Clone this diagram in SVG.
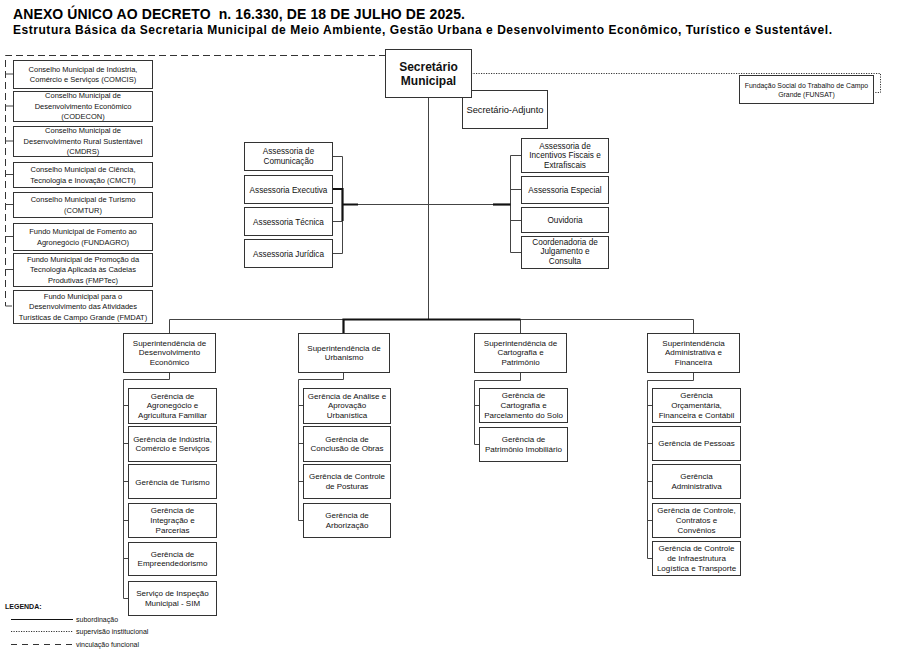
<svg xmlns="http://www.w3.org/2000/svg" width="901" height="653" viewBox="0 0 901 653">
<style>
.bx{fill:#fff;stroke:#333;stroke-width:1}
.t{font-family:"Liberation Sans",Arial,sans-serif;font-size:8px;fill:#111;text-anchor:middle}
.ta{font-family:"Liberation Sans",Arial,sans-serif;font-size:8.2px;fill:#111;text-anchor:middle}
.c{font-family:"Liberation Sans",Arial,sans-serif;font-size:7.5px;fill:#111;text-anchor:middle}
.ln{fill:none;stroke:#444;stroke-width:1}
.th{fill:none;stroke:#111;stroke-width:2.2}
.da{fill:none;stroke:#333;stroke-width:1;stroke-dasharray:7 4}
.do{fill:none;stroke:#333;stroke-width:1;stroke-dasharray:1.2 1.3}
.lg{font-family:"Liberation Sans",Arial,sans-serif;font-size:7px;fill:#111}
.hd{font-family:"Liberation Sans",Arial,sans-serif;font-weight:bold;fill:#000}
</style>
<rect width="901" height="653" fill="#fff"/>
<text class="hd" x="13" y="19" style="font-size:14px" textLength="452" lengthAdjust="spacing">ANEXO ÚNICO AO DECRETO&#160; n. 16.330, DE 18 DE JULHO DE 2025.</text>
<text class="hd" x="13" y="34" style="font-size:12px" textLength="819" lengthAdjust="spacing">Estrutura Básica da Secretaria Municipal de Meio Ambiente, Gestão Urbana e Desenvolvimento Econômico, Turístico e Sustentável.</text>

<g id="connectors">
<!-- vinculação funcional -->
<path class="da" d="M386 55.5 H5.5 V306"/>
<path class="ln" d="M5.5 74 H13 M5.5 106 H13 M5.5 141 H13 M5.5 174.5 H13 M5.5 204.5 H13 M5.5 236.5 H13 M5.5 269.5 H13 M5.5 306 H12"/>
<!-- supervisão institucional -->
<path class="do" d="M471 73.5 H880.5 V92.5 H873"/>
<!-- main trunk -->
<path class="ln" d="M428.5 97 V319.5"/>
<path class="ln" d="M342.5 204.5 H510.5"/>
<path class="ln" d="M332 156.5 H342.5 V253.5 H332 M332 221.5 H342.5"/>
<path class="th" d="M332 189 H342.5 V221 M342.5 204.5 H358"/>
<path class="ln" d="M521 155.5 H510.5 V252.5 H521 M510.5 189.5 H521 M510.5 220.5 H521"/>
<path class="th" d="M493 204.5 H510.5"/>
<!-- superintendencies -->
<path class="ln" d="M169.5 333 V319.5 H693.5 V333 M520.5 319.5 V333"/>
<path class="th" d="M343.5 333 V319.5 H520.5"/>
<!-- desenvolvimento -->
<path class="ln" d="M169.5 372 V379.5 H123.5 V598.5 H128 M123.5 405.5 H128 M123.5 443.5 H128 M123.5 481.5 H128 M123.5 520.5 H128 M123.5 558.5 H128"/>
<!-- urbanismo -->
<path class="ln" d="M343.5 372 V379.5 H298.5 V520.5 H303 M298.5 405.5 H303 M298.5 443.5 H303 M298.5 481.5 H303"/>
<!-- cartografia -->
<path class="ln" d="M520.5 372 V380.5 H474.5 V444.5 H479 M474.5 405.5 H479"/>
<!-- administrativa -->
<path class="ln" d="M693.5 372 V380.5 H647.5 V558.5 H652 M647.5 405.5 H652 M647.5 443.5 H652 M647.5 481.5 H652 M647.5 520.5 H652"/>
</g>

<!-- Council boxes -->
<g id="comcis"><rect class="bx" x="13.5" y="60.5" width="139" height="28"/><text class="c" x="83" y="71.5">Conselho Municipal de Indústria,</text><text class="c" x="83" y="82">Comércio e Serviços (COMCIS)</text></g>
<g id="codecon"><rect class="bx" x="13.5" y="91.5" width="139" height="30"/><text class="c" x="83" y="98.2">Conselho Municipal de</text><text class="c" x="83" y="108.7">Desenvolvimento Econômico</text><text class="c" x="83" y="119.2">(CODECON)</text></g>
<g id="cmdrs"><rect class="bx" x="13.5" y="126.5" width="139" height="30"/><text class="c" x="83" y="133.2">Conselho Municipal de</text><text class="c" x="83" y="143.7">Desenvolvimento Rural Sustentável</text><text class="c" x="83" y="154.2">(CMDRS)</text></g>
<g id="cmcti"><rect class="bx" x="13.5" y="162.5" width="139" height="25"/><text class="c" x="83" y="172">Conselho Municipal de Ciência,</text><text class="c" x="83" y="182.5">Tecnologia e Inovação (CMCTI)</text></g>
<g id="comtur"><rect class="bx" x="13.5" y="192.5" width="139" height="25"/><text class="c" x="83" y="202">Conselho Municipal de Turismo</text><text class="c" x="83" y="212.5">(COMTUR)</text></g>
<g id="fundagro"><rect class="bx" x="13.5" y="223.5" width="139" height="27"/><text class="c" x="83" y="234">Fundo Municipal de Fomento ao</text><text class="c" x="83" y="244.5">Agronegócio (FUNDAGRO)</text></g>
<g id="fmptec"><rect class="bx" x="13.5" y="253.5" width="139" height="33"/><text class="c" x="83" y="261.7">Fundo Municipal de Promoção da</text><text class="c" x="83" y="272.2">Tecnologia Aplicada às Cadeias</text><text class="c" x="83" y="282.7">Produtivas (FMPTec)</text></g>
<g id="fmdat"><rect class="bx" x="13.5" y="290.5" width="139" height="33"/><text class="c" x="83" y="298.7">Fundo Municipal para o</text><text class="c" x="83" y="309.2">Desenvolvimento das Atividades</text><text class="c" x="83" y="319.7">Turísticas de Campo Grande (FMDAT)</text></g>

<g id="funsat"><rect class="bx" x="739.5" y="75.5" width="134" height="28"/><text class="c" x="806.5" y="88" style="font-size:6.9px">Fundação Social do Trabalho de Campo</text><text class="c" x="806.5" y="97" style="font-size:6.9px">Grande (FUNSAT)</text></g>

<!-- Top -->
<g id="adjunto"><rect class="bx" x="462.5" y="90.5" width="85" height="38"/><text class="t" x="505" y="113" style="font-size:9.3px">Secretário-Adjunto</text></g>
<g id="secretario"><rect class="bx" x="385.5" y="49.5" width="86" height="48"/><text class="t" x="428.5" y="70.5" style="font-size:12px;font-weight:bold">Secretário</text><text class="t" x="428.5" y="85" style="font-size:12px;font-weight:bold">Municipal</text></g>

<!-- Assessorias left -->
<g id="comunicacao"><rect class="bx" x="244.5" y="142.5" width="88" height="28"/><text class="ta" x="288.5" y="154">Assessoria de</text><text class="ta" x="288.5" y="164">Comunicação</text></g>
<g id="executiva"><rect class="bx" x="244.5" y="175.5" width="88" height="28"/><text class="ta" x="288.5" y="192.5">Assessoria Executiva</text></g>
<g id="tecnica"><rect class="bx" x="244.5" y="207.5" width="88" height="28"/><text class="ta" x="288.5" y="224.5">Assessoria Técnica</text></g>
<g id="juridica"><rect class="bx" x="244.5" y="239.5" width="88" height="28"/><text class="ta" x="288.5" y="256.5">Assessoria Jurídica</text></g>

<!-- Assessorias right -->
<g id="incentivos"><rect class="bx" x="521.5" y="138.5" width="87" height="34"/><text class="ta" x="565" y="148.6">Assessoria de</text><text class="ta" x="565" y="158.4">Incentivos Fiscais e</text><text class="ta" x="565" y="168.2">Extrafiscais</text></g>
<g id="especial"><rect class="bx" x="521.5" y="176.5" width="87" height="27"/><text class="ta" x="565" y="193">Assessoria Especial</text></g>
<g id="ouvidoria"><rect class="bx" x="521.5" y="207.5" width="87" height="25"/><text class="ta" x="565" y="223">Ouvidoria</text></g>
<g id="coordenadoria"><rect class="bx" x="521.5" y="236.5" width="87" height="32"/><text class="ta" x="565" y="244.6">Coordenadoria de</text><text class="ta" x="565" y="254.2">Julgamento e</text><text class="ta" x="565" y="263.9">Consulta</text></g>

<!-- Superintendencies -->
<g id="sup-desenv"><rect class="bx" x="123.5" y="333.5" width="92" height="39"/><text class="t" x="169.5" y="345.6">Superintendência de</text><text class="t" x="169.5" y="355.3">Desenvolvimento</text><text class="t" x="169.5" y="365">Econômico</text></g>
<g id="sup-urb"><rect class="bx" x="298.5" y="333.5" width="91" height="39"/><text class="t" x="344" y="350.5">Superintendência de</text><text class="t" x="344" y="360.1">Urbanismo</text></g>
<g id="sup-cart"><rect class="bx" x="474.5" y="333.5" width="92" height="39"/><text class="t" x="520.5" y="345.6">Superintendência de</text><text class="t" x="520.5" y="355.3">Cartografia e</text><text class="t" x="520.5" y="365">Patrimônio</text></g>
<g id="sup-adm"><rect class="bx" x="647.5" y="333.5" width="92" height="39"/><text class="t" x="693.5" y="345.6">Superintendência</text><text class="t" x="693.5" y="355.3">Administrativa e</text><text class="t" x="693.5" y="365">Financeira</text></g>

<!-- Desenvolvimento gerências -->
<g id="g-agro"><rect class="bx" x="128.5" y="388.5" width="88" height="35"/><text class="t" x="172.5" y="398.5">Gerência de</text><text class="t" x="172.5" y="408.3">Agronegócio e</text><text class="t" x="172.5" y="418.1">Agricultura Familiar</text></g>
<g id="g-ind"><rect class="bx" x="128.5" y="426.5" width="88" height="35"/><text class="t" x="172.5" y="441.5">Gerência de Indústria,</text><text class="t" x="172.5" y="451.3">Comércio e Serviços</text></g>
<g id="g-tur"><rect class="bx" x="128.5" y="464.5" width="88" height="34"/><text class="t" x="172.5" y="484.5">Gerência de Turismo</text></g>
<g id="g-int"><rect class="bx" x="128.5" y="503.5" width="88" height="34"/><text class="t" x="172.5" y="513">Gerência de</text><text class="t" x="172.5" y="522.8">Integração e</text><text class="t" x="172.5" y="532.6">Parcerias</text></g>
<g id="g-emp"><rect class="bx" x="128.5" y="542.5" width="88" height="33"/><text class="t" x="172.5" y="556.5">Gerência de</text><text class="t" x="172.5" y="566.3">Empreendedorismo</text></g>
<g id="g-sim"><rect class="bx" x="128.5" y="581.5" width="88" height="34"/><text class="t" x="172.5" y="596">Serviço de Inspeção</text><text class="t" x="172.5" y="605.8">Municipal - SIM</text></g>

<!-- Urbanismo gerências -->
<g id="g-analise"><rect class="bx" x="303.5" y="388.5" width="87" height="35"/><text class="t" x="347" y="398.5">Gerência de Análise e</text><text class="t" x="347" y="408.3">Aprovação</text><text class="t" x="347" y="418.1">Urbanística</text></g>
<g id="g-conc"><rect class="bx" x="303.5" y="426.5" width="87" height="35"/><text class="t" x="347" y="441.5">Gerência de</text><text class="t" x="347" y="451.3">Conclusão de Obras</text></g>
<g id="g-post"><rect class="bx" x="303.5" y="464.5" width="87" height="34"/><text class="t" x="347" y="479">Gerência de Controle</text><text class="t" x="347" y="488.8">de Posturas</text></g>
<g id="g-arb"><rect class="bx" x="303.5" y="503.5" width="87" height="34"/><text class="t" x="347" y="518">Gerência de</text><text class="t" x="347" y="527.8">Arborização</text></g>

<!-- Cartografia gerências -->
<g id="g-cart"><rect class="bx" x="479.5" y="388.5" width="88" height="34"/><text class="t" x="523.5" y="398">Gerência de</text><text class="t" x="523.5" y="407.8">Cartografia e</text><text class="t" x="523.5" y="417.6">Parcelamento do Solo</text></g>
<g id="g-patr"><rect class="bx" x="479.5" y="427.5" width="88" height="34"/><text class="t" x="523.5" y="442">Gerência de</text><text class="t" x="523.5" y="451.8">Patrimônio Imobiliário</text></g>

<!-- Administrativa gerências -->
<g id="g-orc"><rect class="bx" x="652.5" y="388.5" width="88" height="34"/><text class="t" x="696.5" y="398">Gerência</text><text class="t" x="696.5" y="407.8">Orçamentária,</text><text class="t" x="696.5" y="417.6">Financeira e Contábil</text></g>
<g id="g-pess"><rect class="bx" x="652.5" y="426.5" width="88" height="34"/><text class="t" x="696.5" y="446">Gerência de Pessoas</text></g>
<g id="g-adm"><rect class="bx" x="652.5" y="464.5" width="88" height="34"/><text class="t" x="696.5" y="479">Gerência</text><text class="t" x="696.5" y="488.8">Administrativa</text></g>
<g id="g-contr"><rect class="bx" x="652.5" y="503.5" width="88" height="34"/><text class="t" x="696.5" y="513">Gerência de Controle,</text><text class="t" x="696.5" y="522.8">Contratos e</text><text class="t" x="696.5" y="532.6">Convênios</text></g>
<g id="g-infra"><rect class="bx" x="652.5" y="541.5" width="88" height="34"/><text class="t" x="696.5" y="551">Gerência de Controle</text><text class="t" x="696.5" y="560.8">de Infraestrutura</text><text class="t" x="696.5" y="570.6">Logística e Transporte</text></g>

<!-- Legend -->
<g id="legend">
<text class="lg" x="5" y="609" style="font-weight:bold">LEGENDA:</text>
<path class="ln" d="M11 619.5 H73" style="stroke:#111"/>
<text class="lg" x="76" y="622">subordinação</text>
<path class="do" d="M11 631.5 H73"/>
<text class="lg" x="76" y="634">supervisão institucional</text>
<path class="da" d="M11 644.5 H73" style="stroke-dasharray:6 5"/>
<text class="lg" x="76" y="647">vinculação funcional</text>
</g>
</svg>
